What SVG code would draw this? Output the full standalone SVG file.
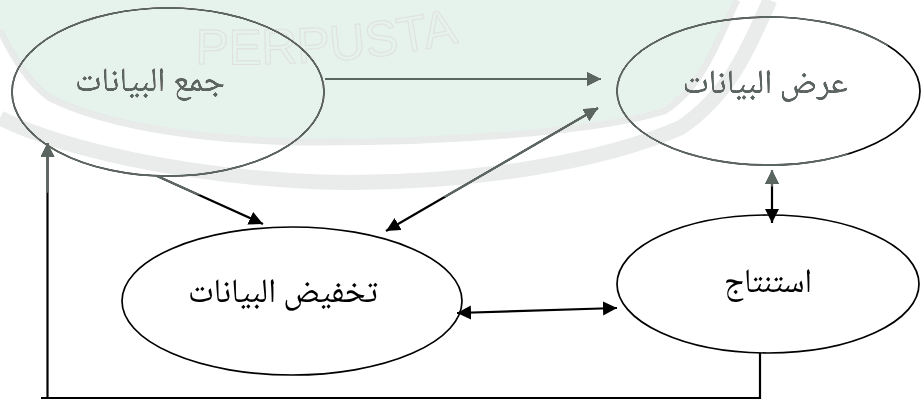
<svg xmlns="http://www.w3.org/2000/svg" width="921" height="401" viewBox="0 0 921 401">
<style>
.node ellipse{fill:none;stroke:#000;stroke-width:1.7}
.lbl{font-family:"Noto Naskh Arabic","Amiri","Scheherazade New","DejaVu Sans","Noto Sans",sans-serif;font-size:34px;fill:#000;text-anchor:middle}
.conn line,.conn polyline{fill:none;stroke:#000;stroke-width:2.2}
.fade{mix-blend-mode:lighten}
.tint{mix-blend-mode:darken}
</style>
<defs>
<marker id="ah" markerUnits="userSpaceOnUse" markerWidth="16" markerHeight="16" refX="14" refY="7" orient="auto-start-reverse">
<path d="M0,0 L14,7 L0,14 Z" fill="#000"/>
</marker>
</defs>
<rect x="0" y="0" width="921" height="401" fill="#fff"/>

<g id="node-jam" class="node">
<ellipse cx="168" cy="92" rx="156" ry="84"/>
<text class="lbl" x="150" y="91" textLength="150" lengthAdjust="spacingAndGlyphs">جمع البيانات</text>
</g>
<g id="node-ard" class="node">
<ellipse cx="768.5" cy="91" rx="151.5" ry="74"/>
<text class="lbl" x="765" y="93" textLength="165" lengthAdjust="spacingAndGlyphs">عرض البيانات</text>
</g>
<g id="node-takhfid" class="node">
<ellipse cx="292" cy="301" rx="170" ry="74"/>
<text class="lbl" x="283" y="302" textLength="190" lengthAdjust="spacingAndGlyphs">تخفيض البيانات</text>
</g>
<g id="node-istintaj" class="node">
<ellipse cx="768" cy="284" rx="151" ry="69"/>
<text class="lbl" x="768" y="292" textLength="88" lengthAdjust="spacingAndGlyphs">استنتاج</text>
</g>

<g id="connectors" class="conn">
<line x1="325" y1="79" x2="601" y2="79" marker-end="url(#ah)"/>
<line x1="386" y1="231" x2="598" y2="108" marker-start="url(#ah)" marker-end="url(#ah)"/>
<line x1="157" y1="176" x2="263" y2="224" marker-end="url(#ah)"/>
<line x1="772" y1="170" x2="772" y2="223" marker-start="url(#ah)" marker-end="url(#ah)"/>
<line x1="457" y1="313" x2="617" y2="308" marker-start="url(#ah)" marker-end="url(#ah)"/>
<polyline points="760,353 760,398 41,398"/>
<line x1="47.5" y1="398" x2="47.5" y2="143" marker-end="url(#ah)"/>
</g>

<g id="watermark">
<path class="fade" fill="rgb(92,102,97)" d="M0,0 H895 L890,25 C885,90 870,150 820,175 C780,192 700,196 445,197 C300,197 150,194 0,192 Z"/>
<path class="tint" fill="rgb(230,243,236)" d="M0,0 H735 C715,40 700,85 662,108 C600,128 450,140 300,139 C180,136 100,120 50,98 C28,82 14,58 0,32 Z"/>
<path class="tint" fill="none" stroke="rgb(232,235,234)" stroke-width="7" d="M0,30 C14,58 28,82 50,98 C100,122 180,139 300,142 C450,143 600,131 664,111 C702,88 717,42 737,0"/>
<path class="tint" fill="none" stroke="rgb(234,236,235)" stroke-width="15" d="M0,118 C60,148 180,176 320,182 C480,186 610,158 680,128 C730,95 750,45 770,0"/>
<path id="wmArc" fill="none" stroke="none" d="M195,64 C300,66 390,62 510,30"/>
<text class="tint" font-family="'Liberation Sans','DejaVu Sans',sans-serif" font-size="50" fill="none" stroke="rgb(224,226,226)" stroke-width="1.2"><textPath href="#wmArc">PERPUSTA</textPath></text>
</g>
</svg>
